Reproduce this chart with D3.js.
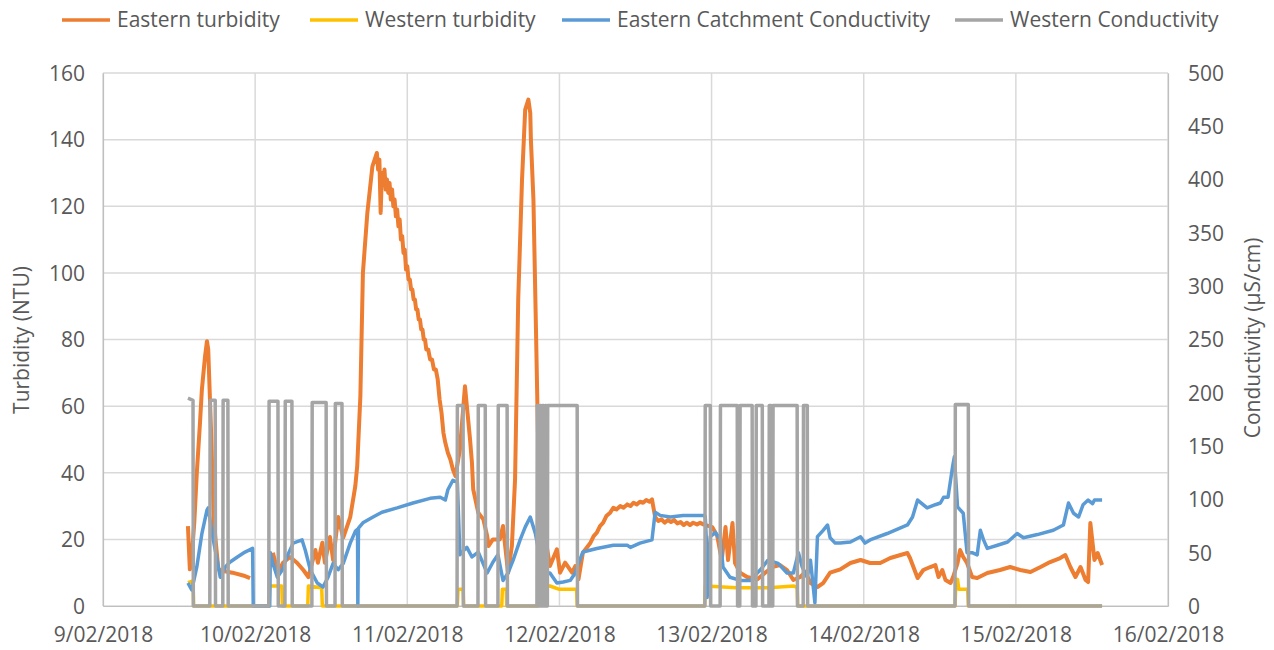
<!DOCTYPE html>
<html><head><meta charset="utf-8">
<script src="https://cdn.jsdelivr.net/npm/d3@7"></script>
<style>
html,body{margin:0;padding:0;background:#fff;}
svg text{font-family:"Open Sans",sans-serif;fill:#595959;}
</style></head>
<body><svg id="c" width="1274" height="650"></svg>
<script>
// hours since 9/02/2018 00:00, value
const seriesNames = ["Eastern turbidity","Western turbidity","Eastern Catchment Conductivity","Western Conductivity"];
const seriesColors = ["#ED7D31","#FFC000","#5B9BD5","#A5A5A5"];
const leftTicks = [0,20,40,60,80,100,120,140,160];
const rightTicks = [0,50,100,150,200,250,300,350,400,450,500];

const easternTurbidity = [[13.4,24],[13.7,11],[13.9,12],[14.4,25],[14.8,40],[15.3,55],[15.6,65],[16.1,75],[16.4,79.5],[16.6,77],[17.0,55],[17.5,25],[18.2,11],[19.0,10.5],[20.4,10],[22.4,9],[23.2,8.4],
[null,null],
[26.8,16],[27.6,10],[28.4,13],[29.5,14.7],[30.6,13],[31.6,10.8],[32.4,8.7],[33.5,16.8],[33.9,13],[34.6,19],[35.0,13],[35.8,20.7],[36.3,13.8],[37.1,26.7],[37.9,20.5],[39.0,26.7],[39.8,36],[40.1,42],[40.6,63],[41.0,100],[41.7,118],[42.5,132],[43.2,136],[43.4,131],[43.6,134],[43.8,118],[44.0,130],[44.2,127],[44.4,131],[44.6,125],[44.8,128],[45.0,124],[45.2,127],[45.4,122],[45.6,125],[45.8,120],[46.0,122],[46.2,117],[46.4,119],[46.6,114],[46.8,116],[47.0,110],[47.2,111],[47.4,106],[47.6,107],[47.8,101],[48.0,102],[48.2,98],[48.4,98],[48.6,95],[48.8,95],[49.0,92],[49.2,92],[49.4,89],[49.6,89],[49.8,86],[50.0,86],[50.2,83],[50.4,83],[50.6,80],[50.8,80],[51.0,77],[51.3,77],[51.6,74],[51.9,74],[52.2,71],[52.5,71],[52.8,68],[53.1,62],[53.4,58],[53.7,52],[54.0,49],[54.4,46],[54.8,44],[55.2,41],[55.6,39],[56.3,47],[57.1,66],[57.4,60],[57.9,50],[58.2,43],[58.4,35],[59.2,28],[60.0,26],[60.6,21],[60.8,18],[61.5,20],[62.6,20],[63.1,24],[63.9,10],[64.5,18],[65.0,38],[65.5,92],[66.1,128],[66.6,149],[67.1,152],[67.4,148],[67.5,140],[67.9,122],[68.3,83],[68.6,53],[68.8,38],[69.4,25],[70.5,12],[71.6,17],[72.1,10],[72.9,13],[74.0,10],[74.5,12],[75.0,8],[75.7,16],[76.9,19],[77.4,21],[77.9,22],[78.4,24],[78.9,25],[79.4,27],[80.0,28],[80.5,29.5],[81.0,29],[81.6,30],[82.1,29.5],[82.7,30.5],[83.2,30],[83.7,31],[84.2,30.5],[84.7,31.3],[85.2,31],[85.7,31.8],[86.2,31.3],[86.6,32],[87.1,26.7],[87.6,25.5],[88.1,26],[88.6,25],[89.1,25.8],[89.6,25.2],[90.1,25.8],[90.6,24.8],[91.1,25.2],[91.6,24.3],[92.1,25],[92.6,24.3],[93.1,25],[93.7,24.5],[94.2,25],[94.7,24.5],[96.1,23.7],[96.9,21],[97.6,13.8],[98.2,23.7],[98.6,13.8],[99.3,24.9],[99.7,12.9],[100.5,10],[101.6,8.7],[103.2,8],[104.8,10.5],[105.7,11.8],[106.8,12.3],[107.9,10.8],[108.9,7.8],[110.0,8.7],[110.8,10.2],[111.6,6.9],[112.7,5.7],[113.6,6.9],[114.7,10],[116.3,11],[117.9,12.9],[119.5,13.8],[121.0,12.9],[122.6,12.9],[124.2,14.4],[125.8,15.3],[126.9,15.9],[127.3,14.4],[128.5,8.4],[129.4,10.8],[130.5,11.7],[131.3,12.3],[131.8,8.7],[132.4,10.8],[132.9,7.8],[133.7,6.9],[134.1,8.7],[134.8,12.9],[135.2,16.8],[135.7,14.7],[136.3,12.9],[137.1,8.7],[137.9,8.4],[139.5,9.9],[141.5,10.8],[143.1,11.7],[144.7,10.8],[146.3,10.2],[147.9,11.7],[149.4,13.2],[151.0,14.4],[151.8,15.3],[152.6,11.7],[153.4,8.7],[154.2,11.7],[155.0,7.8],[155.4,7.2],[155.75,24.9],[156.1,18.9],[156.4,13.8],[156.9,15.9],[157.6,12.3]];

const westernTurbidity = [[13.4,7],[14.2,7.5],[14.3,0],[26.2,0],[26.3,6],[28.2,6],[28.3,0],[32.3,0],[32.4,6],[34.5,5.5],[34.6,0],[55.9,0],[56.0,5],[56.8,5],[56.9,0],[62.9,0],[63.0,5],[63.6,5],[63.7,0],[68.6,0],[68.7,6],[70.5,6],[72.0,5],[74.7,5],[74.8,0],[94.9,0],[95.0,6],[100.0,5.5],[105.0,5.5],[109.0,6],[109.5,5.5],[109.6,0],[134.4,0],[134.5,5],[134.8,8],[135.0,5],[136.4,5],[136.5,0],[157.6,0]];

const easternConductivity = [[13.4,21.6],[14.0,15],[14.8,36.6],[15.6,68],[16.4,90],[16.6,92],[17.4,62],[18.0,43],[18.5,27],[19.3,36.6],[20.0,41],[21.2,46],[22.4,50.6],[23.6,54],[23.7,0],[26.3,0],[26.4,50],[26.8,40],[27.5,27],[28.3,34],[29.0,46],[30.0,59],[31.4,62],[31.9,52.5],[32.7,34],[33.8,21.6],[34.7,17.8],[35.5,27],[36.3,40],[37.1,34],[37.9,40],[39.0,59],[39.8,70],[40.15,72],[40.2,0],[40.3,73],[41.0,78],[42.6,83.5],[44.0,88],[46.4,92],[48.9,96.6],[51.6,101],[53.2,102],[54.0,99.4],[54.4,109],[55.2,118],[55.9,116],[56.3,48],[56.5,50],[57.4,55],[58.2,46],[59.2,50.6],[60.6,31],[61.5,41],[62.3,48],[63.1,24],[63.9,31],[64.7,43],[65.8,62],[66.6,74],[67.4,83.5],[67.9,74],[68.2,68],[69.4,31],[70.5,31],[71.6,21.6],[72.6,22.5],[73.7,24],[74.5,31],[75.0,40],[75.7,50.6],[77.9,54],[80.5,57],[82.7,57],[83.2,55],[84.7,59],[86.6,62],[87.1,88],[87.9,85],[89.5,83.5],[91.5,85],[94.7,85],[95.0,84],[95.2,59],[95.3,8],[95.8,65],[96.6,69],[97.4,62],[97.8,36.6],[98.9,27],[100.5,24],[102.1,24],[103.7,34],[104.9,43],[106.5,40],[107.9,31],[108.9,31],[109.7,50],[110.3,36.6],[111.1,27],[111.6,43],[112.3,3],[112.7,65],[113.6,71],[114.3,76],[114.7,64],[115.5,59],[116.3,59],[117.9,60],[119.5,65],[120.2,59],[121.0,62],[123.7,68],[126.9,76],[127.7,83.5],[128.5,99.4],[130.0,92],[131.3,95],[132.1,96.6],[132.6,102],[133.3,102],[134.0,130],[134.3,140],[134.8,93],[135.7,87],[136.3,50],[137.1,50],[137.9,48],[138.4,71],[138.9,62],[139.5,54],[141.1,57],[142.7,60],[144.2,68],[145.2,64],[147.4,67],[149.9,71],[151.5,76],[152.3,96.6],[153.1,87],[153.9,83.5],[154.6,95],[155.4,99.4],[156.1,96],[156.4,99.4],[157.6,99.4]];

const westernConductivity = [[13.4,195],[14.2,193],[14.25,0],[16.85,0],[16.9,193],[17.7,193],[17.75,0],[18.9,0],[18.95,193],[19.7,193],[19.75,0],[26.15,0],[26.2,192],[27.6,192],[27.65,0],[28.7,0],[28.75,192],[29.8,192],[29.85,0],[32.95,0],[33.0,191],[35.2,191],[35.25,0],[36.6,0],[36.65,190],[37.7,190],[37.75,0],[55.85,0],[55.9,188],[56.8,188],[56.85,0],[59.15,0],[59.2,188],[60.3,188],[60.35,0],[62.3,0],[62.35,188],[63.75,188],[63.8,0],[68.45,0],[68.5,188],[68.7,188],[68.75,0],[68.9,0],[68.95,188],[69.1,188],[69.15,0],[69.3,0],[69.35,188],[69.5,188],[69.55,0],[69.7,0],[69.75,188],[69.9,188],[69.95,0],[70.1,0],[70.15,188],[74.8,188],[74.85,0],[94.95,0],[95.0,188],[95.8,188],[95.85,0],[97.35,0],[97.4,188],[100.05,188],[100.1,0],[100.45,0],[100.5,188],[102.4,188],[102.45,0],[103.0,0],[103.05,188],[104.0,188],[104.05,0],[105.05,0],[105.1,188],[105.4,188],[105.45,0],[105.65,0],[105.7,188],[109.5,188],[109.55,0],[110.45,0],[110.5,188],[111.1,188],[111.15,0],[134.4,0],[134.45,189],[136.5,189],[136.55,0],[157.6,0]];

const svg = d3.select("#c");
const L = 103, R = 1168, T = 73, B = 606;
const t0 = new Date(2018,1,9);
const toDate = h => new Date(t0.getTime() + h*3600e3);

const x = d3.scaleTime().domain([t0, new Date(2018,1,16)]).range([L,R]);
const yL = d3.scaleLinear().domain([0,160]).range([B,T]);
const yR = d3.scaleLinear().domain([0,500]).range([B,T]);

// gridlines
const grid = svg.append("g");
grid.selectAll("line.h").data(leftTicks).join("line")
  .attr("x1",L).attr("x2",R).attr("y1",d=>yL(d)).attr("y2",d=>yL(d))
  .attr("stroke","#d9d9d9").attr("stroke-width",1.5);
const dayTicks = d3.timeDay.range(t0, new Date(2018,1,16,1));
grid.selectAll("line.v").data(dayTicks).join("line")
  .attr("x1",d=>x(d)).attr("x2",d=>x(d)).attr("y1",T).attr("y2",B)
  .attr("stroke","#d9d9d9").attr("stroke-width",1.5);

// axes
const fmt = d3.timeFormat("%-d/%m/%Y");
const xAxis = svg.append("g").attr("transform",`translate(0,${B})`)
  .call(d3.axisBottom(x).tickValues(dayTicks).tickFormat(fmt).tickSize(0).tickPadding(21));
const yAxisL = svg.append("g").attr("transform",`translate(${L},0)`)
  .call(d3.axisLeft(yL).tickValues(leftTicks).tickSize(0).tickPadding(18));
const yAxisR = svg.append("g").attr("transform",`translate(${R},0)`)
  .call(d3.axisRight(yR).tickValues(rightTicks).tickSize(0).tickPadding(20));
[xAxis,yAxisL,yAxisR].forEach(g=>{
  g.select(".domain").attr("stroke","#bfbfbf").attr("stroke-width",1.2);
  g.selectAll("text").attr("font-size",21).style("fill","#595959");
});
yAxisL.selectAll("text").attr("dy","0.35em");
yAxisR.selectAll("text").attr("dy","0.35em");

// axis titles
svg.append("text").attr("transform","translate(29,340) rotate(-90)")
  .attr("text-anchor","middle").attr("font-size",21).text("Turbidity (NTU)");
svg.append("text").attr("transform","translate(1260,338) rotate(-90)")
  .attr("text-anchor","middle").attr("font-size",21).text("Conductivity (µS/cm)");

// lines
const toPts = arr => arr.map(d => d[0]===null ? null : [toDate(d[0]), d[1]]);
const mkLine = ys => d3.line().defined(d=>d!==null).x(d=>x(d[0])).y(d=>ys(d[1]));
const plot = svg.append("g");
const drawSeries = [
  {data: easternTurbidity, y: yL, c: seriesColors[0], w: 4},
  {data: westernTurbidity, y: yL, c: seriesColors[1], w: 3.5},
  {data: easternConductivity, y: yR, c: seriesColors[2], w: 3.5},
  {data: westernConductivity, y: yR, c: seriesColors[3], w: 3.5}
];
drawSeries.forEach(s=>{
  plot.append("path").datum(toPts(s.data)).attr("d", mkLine(s.y))
    .attr("fill","none").attr("stroke",s.c).attr("stroke-width",s.w)
    .attr("stroke-linejoin","round").attr("stroke-linecap","butt");
});

// legend
const legendX = [62, 310, 562, 955];
const lg = svg.append("g");
seriesNames.forEach((n,i)=>{
  lg.append("line").attr("x1",legendX[i]).attr("x2",legendX[i]+48).attr("y1",20).attr("y2",20)
    .attr("stroke",seriesColors[i]).attr("stroke-width",3.5);
  lg.append("text").attr("x",legendX[i]+55).attr("y",20).attr("dy","0.35em")
    .attr("font-size",21).text(n);
});
</script></body></html>
